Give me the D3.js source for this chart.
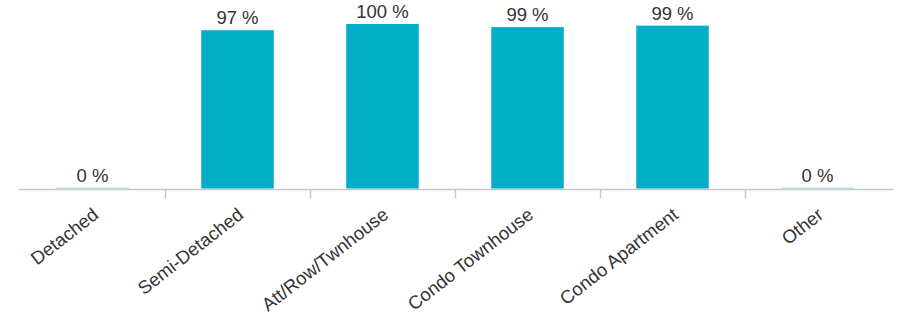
<!DOCTYPE html>
<html><head><meta charset="utf-8">
<script src="https://cdn.jsdelivr.net/npm/d3@7"></script>
<style>body{margin:0;background:#fff}svg{display:block}text{font-family:"Liberation Sans",Arial,sans-serif}</style>
</head><body>
<svg id="c" width="897" height="321"></svg>
<script>
const categories = ["Detached","Semi-Detached","Att/Row/Twnhouse","Condo Townhouse","Condo Apartment","Other"];
const values = [0, 96.6, 100.4, 98.5, 99.4, 0];
const valueLabels = ["0 %","97 %","100 %","99 %","99 %","0 %"];

const svg = d3.select("#c");
const x = d3.scaleBand().domain(categories).range([20, 890]).paddingInner(0.5).paddingOuter(0.25);
const y = d3.scaleLinear().domain([0, 100.4]).range([188.5, 24]);

// axis line
svg.append("line").attr("x1", 19).attr("x2", 894).attr("y1", 189.5).attr("y2", 189.5)
  .attr("stroke", "#c8c8c8").attr("stroke-width", 1.5);
// ticks between bands
categories.slice(1).forEach(c => {
  const tx = Math.round(x(c) - x.bandwidth() / 2) + 0.5;
  svg.append("line").attr("x1", tx).attr("x2", tx).attr("y1", 189.5).attr("y2", 198.5)
    .attr("stroke", "#c8c8c8").attr("stroke-width", 1.5);
});

// bars
svg.selectAll("rect.bar").data(categories).enter().append("rect")
  .attr("x", d => x(d)).attr("width", x.bandwidth())
  .attr("y", (d, i) => values[i] > 0 ? y(values[i]) : 187.5)
  .attr("height", (d, i) => values[i] > 0 ? y(0) - y(values[i]) : 1.2)
  .attr("fill", (d, i) => values[i] > 0 ? "#00aec7" : "#a9dbe4");

// value labels
svg.selectAll("text.val").data(categories).enter().append("text")
  .attr("x", d => x(d) + x.bandwidth() / 2)
  .attr("y", (d, i) => (values[i] > 0 ? y(values[i]) : 187.5) - 6)
  .attr("text-anchor", "middle").attr("font-size", 18.5).attr("fill", "#333")
  .text((d, i) => valueLabels[i]);

// category labels
svg.selectAll("text.cat").data(categories).enter().append("text")
  .attr("text-anchor", "end").attr("font-size", 18.5).attr("fill", "#333")
  .attr("transform", d => `translate(${x(d) + x.bandwidth() / 2 + 7},${217}) rotate(-38)`)
  .text(d => d);
</script>
</body></html>
